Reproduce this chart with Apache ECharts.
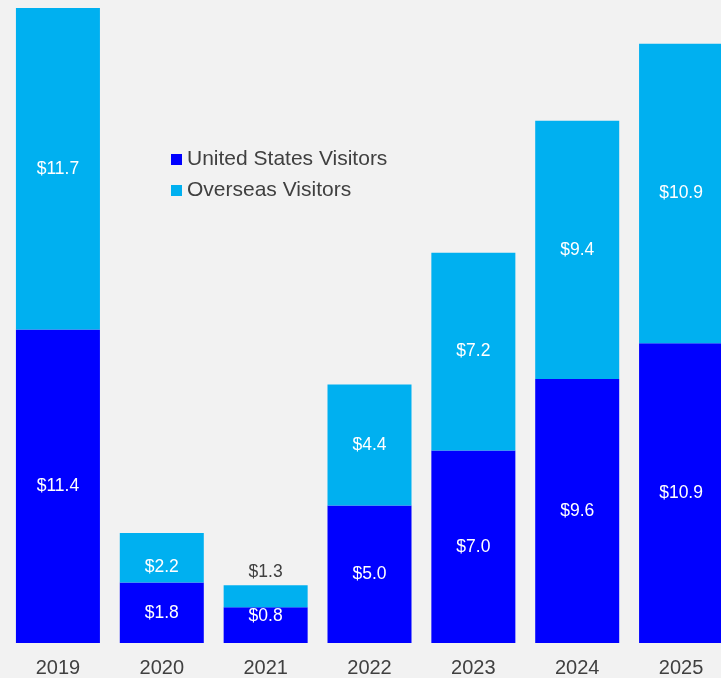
<!DOCTYPE html>
<html>
<head>
    <meta charset="UTF-8">
    <title>Visitor spending</title>
    <style type="text/css">
        html, body { margin: 0; padding: 0; background: #f2f2f2; }
        #main { width: 721px; height: 678px; }
    </style>
</head>
<body>
<div id="main"></div>
<script src="https://cdn.jsdelivr.net/npm/echarts@6/dist/echarts.min.js"></script>
<script>
    // data (bar heights) and the printed labels
    var years = ['2019', '2020', '2021', '2022', '2023', '2024', '2025'];
    var usValues = [11.4, 2.2, 1.3, 5.0, 7.0, 9.6, 10.9];
    var overseasValues = [11.7, 1.8, 0.8, 4.4, 7.2, 9.4, 10.9];
    var usLabels = ['$11.4', '$1.8', '$0.8', '$5.0', '$7.0', '$9.6', '$10.9'];
    var overseasLabels = ['$11.7', '$2.2', '$1.3', '$4.4', '$7.2', '$9.4', '$10.9'];

    var font = 'Liberation Sans, Arial, sans-serif';
    var myChart = echarts.init(document.getElementById('main'));

    // per-bar label tweaks for the two small years
    function usData() {
        return usValues.map(function (v, i) {
            var item = { value: v, label: { formatter: usLabels[i] } };
            if (i === 2) item.label.offset = [0, -9];
            return item;
        });
    }
    function overseasData() {
        return overseasValues.map(function (v, i) {
            var item = { value: v, label: { formatter: overseasLabels[i] } };
            if (i === 1) item.label.offset = [0, 9];
            if (i === 2) {
                item.label.position = 'top';
                item.label.distance = 4;
                item.label.color = '#404040';
            }
            return item;
        });
    }

    var option = {
        backgroundColor: '#f2f2f2',
        animation: false,
        // plot area runs past the right edge, the last bar is cut off
        grid: { left: 6, width: 727, top: 8, bottom: 35, outerBoundsMode: 'none' },
        legend: {
            orient: 'vertical',
            left: 171,
            top: 149,
            padding: 0,
            itemWidth: 11,
            itemHeight: 11,
            itemGap: 10,
            icon: 'rect',
            textStyle: { fontFamily: font, fontSize: 21, color: '#404040', lineHeight: 21 },
            data: ['United States Visitors', 'Overseas Visitors']
        },
        xAxis: {
            type: 'category',
            data: years,
            axisLine: { show: false },
            axisTick: { show: false },
            axisLabel: { fontFamily: font, fontSize: 20, color: '#404040', margin: 15 }
        },
        yAxis: {
            type: 'value',
            min: 0,
            max: 23.1,
            show: false,
            splitLine: { show: false }
        },
        series: [{
            name: 'United States Visitors',
            type: 'bar',
            stack: 'total',
            barWidth: 84,
            itemStyle: { color: '#0000ff' },
            label: { show: true, position: 'inside', color: '#ffffff', fontFamily: font, fontSize: 17.5 },
            data: usData()
        }, {
            name: 'Overseas Visitors',
            type: 'bar',
            stack: 'total',
            barWidth: 84,
            itemStyle: { color: '#00b0f0' },
            label: { show: true, position: 'inside', color: '#ffffff', fontFamily: font, fontSize: 17.5 },
            data: overseasData()
        }]
    };

    myChart.setOption(option);
</script>
</body>
</html>
